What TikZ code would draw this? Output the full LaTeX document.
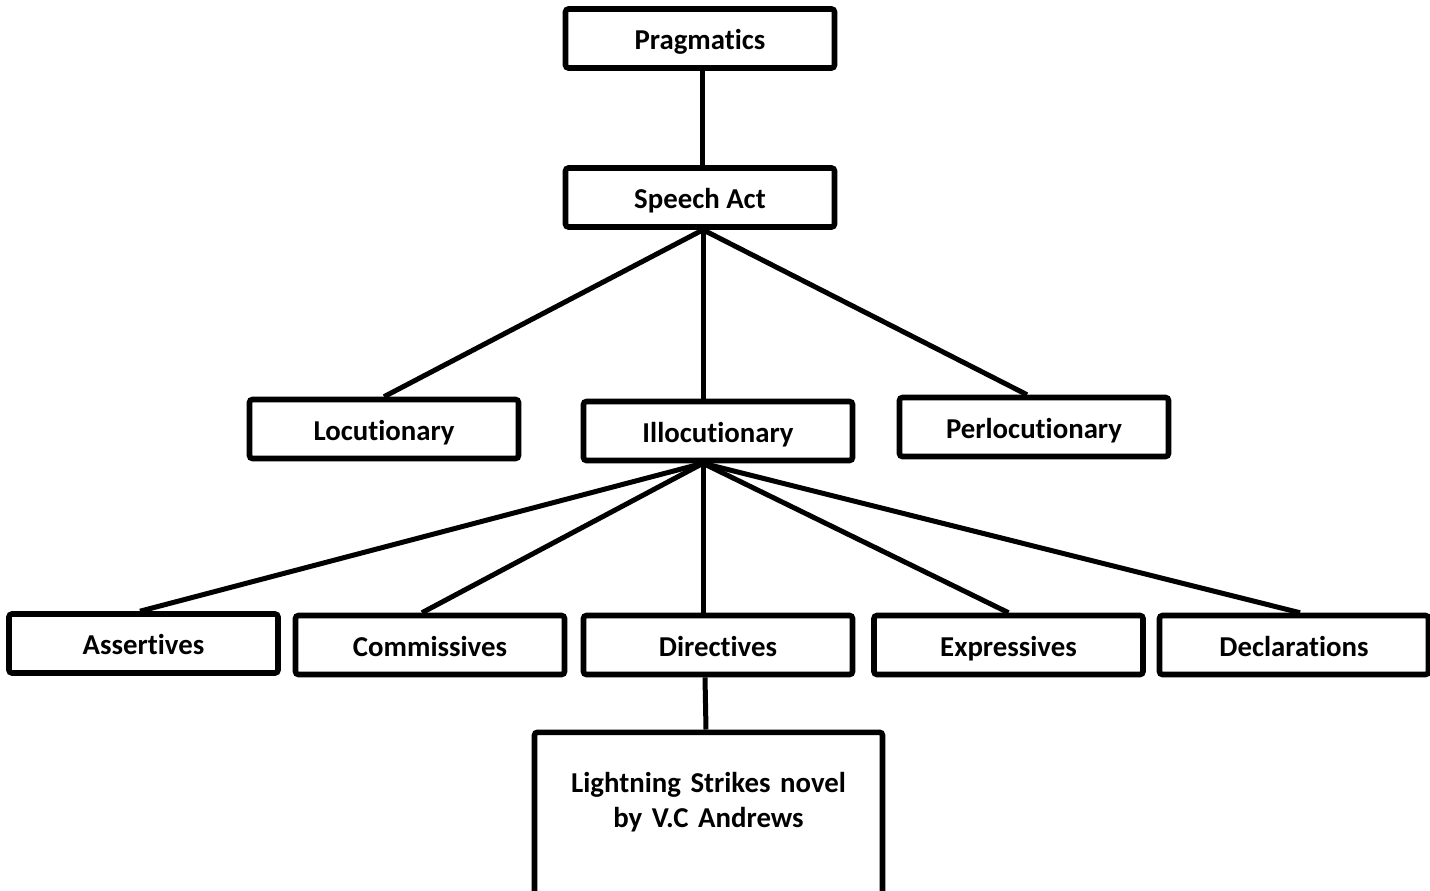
\documentclass[tikz,border=0pt]{standalone}
\usepackage{fontspec}
\setmainfont{Carlito}[Ligatures=NoCommon]
\usepackage{tikz}

\tikzset{
  box/.style={draw, line width=2.8pt, rounded corners=1.5pt, minimum width=134.5pt,
    minimum height=29.5pt, inner sep=0pt, text height=12pt, text depth=1pt},
  link/.style={line width=2.5pt}
}

\begin{document}
\begin{tikzpicture}[x=0.5pt,y=-0.5pt,font=\fontsize{14.4}{17.5}\selectfont\bfseries]
\useasboundingbox (0,0) rectangle (1430,890);
\node[box] (prag) at (700,38.5) {Pragmatics};
\node[box] (speech) at (700,197.5) {Speech Act};
\node[box] (locut) at (384,429) {Locutionary};
\node[box] (illoc) at (718,431) {Illocutionary};
\node[box] (perloc) at (1034,427) {Perlocutionary};
\node[box] (assert) at (143.5,643.5) {Assertives};
\node[box] (commis) at (430,645) {Commissives};
\node[box] (direct) at (718,645) {Directives};
\node[box] (express) at (1008.5,645) {Expressives};
\node[box] (declar) at (1294,645) {Declarations};
\node[draw, line width=2.8pt, rounded corners=1.5pt, anchor=north, text width=170pt,
  align=center, inner xsep=2pt, inner ysep=20pt, text height=10pt, text depth=90pt]
  (novel) at (708.5,729.5) {Lightning Strikes novel\\by V.C Andrews};
\draw[link] ([xshift=1pt]prag.south) -- ([xshift=1pt]speech.north);
\draw[link] ([xshift=1.5pt]speech.south) -- (locut.north);
\draw[link] ([xshift=1.5pt]speech.south) -- ([xshift=-7.5pt]illoc.north);
\draw[link] ([xshift=1.5pt]speech.south) -- ([xshift=-3.5pt]perloc.north);
\draw[link] ([xshift=-7.5pt]illoc.south) -- ([xshift=-1.75pt]assert.north);
\draw[link] ([xshift=-7.5pt]illoc.south) -- ([xshift=-4pt]commis.north);
\draw[link] ([xshift=-7.5pt]illoc.south) -- ([xshift=-7.5pt]direct.north);
\draw[link] ([xshift=-7.5pt]illoc.south) -- (express.north);
\draw[link] ([xshift=-7.5pt]illoc.south) -- ([xshift=3pt]declar.north);
\draw[link] ([xshift=-6.5pt]direct.south) -- ([xshift=-1.25pt]novel.north);
\end{tikzpicture}
\end{document}
